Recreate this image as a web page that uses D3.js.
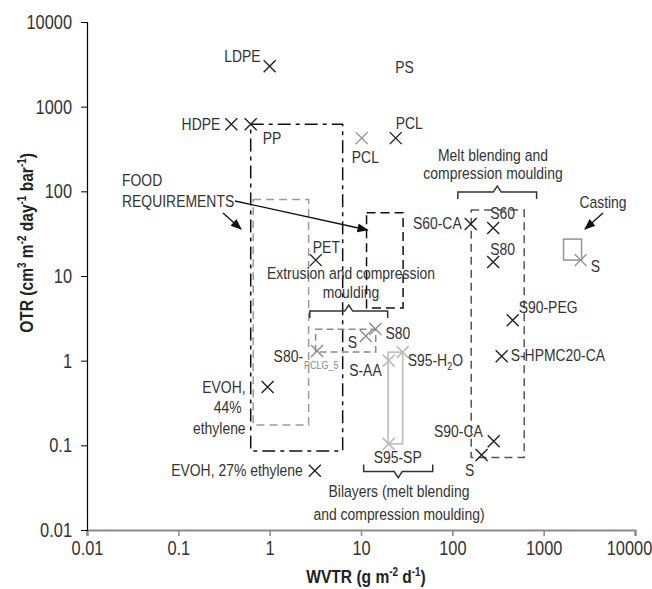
<!DOCTYPE html>
<html><head><meta charset="utf-8">
<script src="https://cdn.jsdelivr.net/npm/d3@7"></script>
<style>
body{margin:0;background:#fff;}
text{font-family:'Liberation Sans',Arial,sans-serif;}
</style></head>
<body><svg id="c" width="652" height="589"></svg>
<script>
// ---------- data ----------
const xTicks = [0.01, 0.1, 1, 10, 100, 1000, 10000];
const yTicks = [0.01, 0.1, 1, 10, 100, 1000, 10000];
const tickLabels = ["0.01", "0.1", "1", "10", "100", "1000", "10000"];

// conventional polymers and starch films (black)
const blackNames = ["LDPE", "HDPE", "PP", "PCL", "PET", "EVOH44", "EVOH27", "S60-CA", "S60", "S80", "S90-PEG", "S-HPMC20-CA", "S90-CA", "S"];
const blackWVTR  = [1.0, 0.38, 0.62, 24, 3.2, 0.95, 3.12, 159, 280, 280, 458, 347, 284, 209];
const blackOTR   = [3000, 620, 620, 425, 15.4, 0.49, 0.05, 41, 37, 14.6, 3.0, 1.13, 0.112, 0.077];

// grey series
const greyNames = ["PCL", "S(cast)", "S80-PCLG_5", "S", "S80"];
const greyWVTR  = [10.2, 2540, 3.3, 11.3, 14.4];
const greyOTR   = [425, 15.4, 1.3, 1.95, 2.36];

// light grey series (bilayers)
const lightNames = ["S-AA", "S95-H2O", "S95-SP"];
const lightWVTR  = [20.1, 28.6, 20.1];
const lightOTR   = [1.0, 1.26, 0.104];

// label-only point
const psPoint = [30, 3000];

// region boxes [x0, x1, y0, y1]
const foodBoxA     = [0.62, 6.3, 0.086, 620];
const foodBoxB     = [11.5, 28.9, 4.2, 56];
const extrusionBox = [0.66, 2.67, 0.174, 80];
const s80Box       = [3.18, 14.5, 1.27, 2.35];
const meltBox      = [161, 612, 0.072, 60];
const bilayerBox   = [19.8, 28.6, 0.104, 1.26];
const castingBox   = [1650, 2600, 15.4, 27.3];

// braces [x0, x1, y]
const extrusionBrace = [2.75, 19.6, 3.85];
const meltBrace      = [115, 837, 98];
const bilayerBrace   = [10.7, 61, 0.049];

// ---------- layout ----------
const W = 652, H = 589, SX = 0.82;
const m = {left: 87, right: 17, top: 22, bottom: 59};
const svg = d3.select("#c");
const x = d3.scaleLog().domain([0.01, 10000]).range([m.left, W - m.right]);
const y = d3.scaleLog().domain([0.01, 10000]).range([H - m.bottom, m.top]);
const txt = "#333";

// narrow text helper
function T(xp, yp, anchor, size, fill, weight, rot) {
  const g = svg.append("g").attr("transform", `translate(${xp},${yp})` + (rot ? ` rotate(${rot})` : "") + ` scale(${SX},1)`);
  return g.append("text").attr("x", 0).attr("y", 0).attr("text-anchor", anchor || "start")
    .attr("font-size", size || 17).attr("fill", fill || txt).attr("font-weight", weight || "normal");
}

// axes
const xAxis = svg.append("g").attr("transform", `translate(0,${H - m.bottom})`)
  .call(d3.axisBottom(x).tickValues(xTicks).tickFormat((d, i) => tickLabels[i]).tickSize(6).tickPadding(5));
xAxis.select(".domain").attr("stroke", "#8a8a8a").attr("stroke-width", 2.2);
xAxis.selectAll(".tick line").attr("stroke", "#8a8a8a").attr("stroke-width", 1.5);
xAxis.selectAll(".tick text").attr("font-size", 20).attr("fill", txt)
  .attr("x", (d, i) => i === xTicks.length - 1 ? -6 / SX : 0)
  .attr("transform", `scale(${SX},1)`).style("font-family", "'Liberation Sans',Arial,sans-serif");

const yAxis = svg.append("g").attr("transform", `translate(${m.left},0)`)
  .call(d3.axisLeft(y).tickValues(yTicks).tickFormat((d, i) => tickLabels[i]).tickSize(6).tickPadding(9));
yAxis.select(".domain").attr("stroke", "#000").attr("stroke-width", 1.2);
yAxis.selectAll(".tick line").attr("stroke", "#000");
yAxis.selectAll(".tick text").attr("font-size", 20).attr("fill", txt)
  .attr("x", -15 / SX).attr("transform", `scale(${SX},1)`).style("font-family", "'Liberation Sans',Arial,sans-serif");

// axis titles
const xt = T(366, 583, "middle", 19, "#222", "bold");
xt.append("tspan").text("WVTR (g m");
xt.append("tspan").text("-2").attr("font-size", 12).attr("dy", -7);
xt.append("tspan").text(" d").attr("dy", 7);
xt.append("tspan").text("-1").attr("font-size", 12).attr("dy", -7);
xt.append("tspan").text(")").attr("dy", 7);

const yt = T(33, 243, "middle", 19, "#222", "bold", -90);
yt.append("tspan").text("OTR (cm");
yt.append("tspan").text("3").attr("font-size", 12).attr("dy", -7);
yt.append("tspan").text(" m").attr("dy", 7);
yt.append("tspan").text("-2").attr("font-size", 12).attr("dy", -7);
yt.append("tspan").text(" day").attr("dy", 7);
yt.append("tspan").text("-1").attr("font-size", 12).attr("dy", -7);
yt.append("tspan").text(" bar").attr("dy", 7);
yt.append("tspan").text("-1").attr("font-size", 12).attr("dy", -7);
yt.append("tspan").text(")").attr("dy", 7);

// boxes
function box(b, stroke, dash, sw) {
  svg.append("rect").attr("x", x(b[0])).attr("y", y(b[3]))
    .attr("width", x(b[1]) - x(b[0])).attr("height", y(b[2]) - y(b[3]))
    .attr("fill", "none").attr("stroke", stroke).attr("stroke-width", sw || 1.5)
    .attr("stroke-dasharray", dash);
}
box(extrusionBox, "#9a9a9a", "8,5", 1.5);
box(foodBoxA, "#111", "13,5,4,5", 1.5);
box(foodBoxB, "#111", "9,5", 1.5);
box(s80Box, "#8a8a8a", "7,4", 1.5);
box(meltBox, "#555", "8,5", 1.5);
box(bilayerBox, "#bdbdbd", null, 1.6);
box(castingBox, "#9a9a9a", null, 1.6);

// braces
function brace(b, dir) { // dir -1: tip up, +1: tip down
  const x0 = x(b[0]), x1 = x(b[1]), yy = y(b[2]), xm = (x0 + x1) / 2;
  const e = -dir * 7, t = dir * 6;
  const p = `M${x0},${yy + e} L${x0},${yy} L${xm - 4},${yy} L${xm},${yy + t} L${xm + 4},${yy} L${x1},${yy} L${x1},${yy + e}`;
  svg.append("path").attr("d", p).attr("fill", "none").attr("stroke", "#333").attr("stroke-width", 1.5);
}
brace(extrusionBrace, -1);
brace(meltBrace, -1);
brace(bilayerBrace, 1);

// arrows
const defs = svg.append("defs");
defs.append("marker").attr("id", "ah").attr("viewBox", "0 0 10 10").attr("refX", 9).attr("refY", 5)
  .attr("markerWidth", 8).attr("markerHeight", 8).attr("orient", "auto")
  .append("path").attr("d", "M0,1 L10,5 L0,9 Z").attr("fill", "#111");
function arrow(x1, y1, x2, y2) {
  svg.append("line").attr("x1", x1).attr("y1", y1).attr("x2", x2).attr("y2", y2)
    .attr("stroke", "#111").attr("stroke-width", 1.4).attr("marker-end", "url(#ah)");
}
arrow(235, 201, x(foodBoxB[0]) + 1, 230);
arrow(223, 213, 241, 229);
arrow(603, 213, 585, 229);

// markers
function cross(xs, ys, color, sw) {
  svg.append("g").selectAll("path").data(xs).join("path")
    .attr("d", (d, i) => {
      const cx = x(d), cy = y(ys[i]), r = 6;
      return `M${cx - r},${cy - r}L${cx + r},${cy + r}M${cx - r},${cy + r}L${cx + r},${cy - r}`;
    })
    .attr("stroke", color).attr("stroke-width", sw).attr("fill", "none");
}
cross(blackWVTR, blackOTR, "#222", 1.4);
cross(greyWVTR, greyOTR, "#8c8c8c", 1.4);
cross(lightWVTR, lightOTR, "#bdbdbd", 1.6);

// labels
function label(xv, yv, dx, dy, s, anchor, size, fill) {
  return T(x(xv) + dx, y(yv) + dy, anchor, size || 17, fill).text(s);
}
label(blackWVTR[0], blackOTR[0], -9, -4, "LDPE", "end");
label(blackWVTR[1], blackOTR[1], -11, 6, "HDPE", "end");
label(blackWVTR[2], blackOTR[2], 12, 20, "PP");
label(psPoint[0], psPoint[1], 0, 7, "PS", "middle");
label(blackWVTR[3], blackOTR[3], 0, -9, "PCL");
label(blackWVTR[4], blackOTR[4], -3, -7, "PET");
const evx = x(blackWVTR[5]) - 22, evy = y(blackOTR[5]) + 6;
T(evx, evy, "end", 17).text("EVOH,");
T(evx - 4, evy + 20.5, "end", 17).text("44%");
T(evx, evy + 41, "end", 17).text("ethylene");
label(blackWVTR[6], blackOTR[6], -12, 5, "EVOH, 27% ethylene", "end");
label(blackWVTR[7], blackOTR[7], -9, 5, "S60-CA", "end");
label(blackWVTR[8], blackOTR[8], -3, -9, "S60");
label(blackWVTR[9], blackOTR[9], -3, -7, "S80");
label(blackWVTR[10], blackOTR[10], 6, -7, "S90-PEG");
label(blackWVTR[11], blackOTR[11], 9, 5, "S-HPMC20-CA");
label(blackWVTR[12], blackOTR[12], -11, -4, "S90-CA", "end");
label(blackWVTR[13], blackOTR[13], -12, 21, "S", "middle");

label(greyWVTR[0], greyOTR[0], -10, 25, "PCL");
label(greyWVTR[1], greyOTR[1], 10, 12, "S");
label(greyWVTR[2], greyOTR[2], -14, 11, "S80-", "end");
label(greyWVTR[2], greyOTR[2], -13, 18, "PCLG_5", "start", 11, "#888");
label(greyWVTR[3], greyOTR[3], -18, 12, "S");
label(greyWVTR[4], greyOTR[4], 10, 10, "S80");

label(lightWVTR[0], lightOTR[0], -7, 15, "S-AA", "end");
const h2o = T(x(lightWVTR[1]) + 5, y(lightOTR[1]) + 14, "start", 17);
h2o.append("tspan").text("S95-H");
h2o.append("tspan").text("2").attr("font-size", 11).attr("dy", 4);
h2o.append("tspan").text("O").attr("dy", -4);
label(lightWVTR[2], lightOTR[2], 9, 19, "S95-SP", "middle");

// annotation texts
T(122, 186, "start").text("FOOD");
T(122, 207, "start").text("REQUIREMENTS");
T(351, 279, "middle").text("Extrusion and compression");
T(351, 298, "middle").text("moulding");
T(493, 161, "middle").text("Melt blending and");
T(493, 179, "middle").text("compression moulding");
T(603, 208, "middle").text("Casting");
T(399, 497, "middle").text("Bilayers (melt blending");
T(399, 520, "middle").text("and compression moulding)");
</script></body></html>
